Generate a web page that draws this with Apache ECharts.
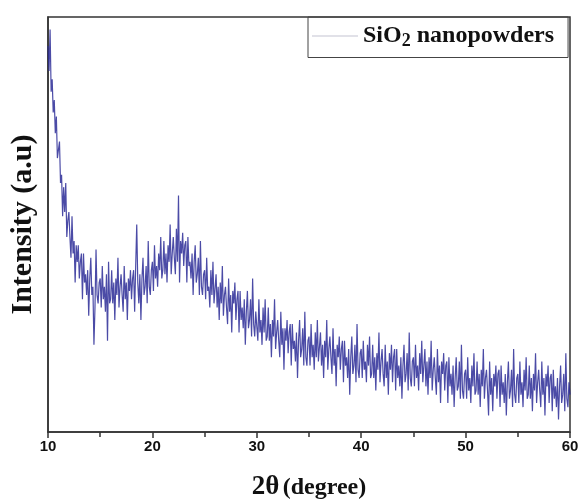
<!DOCTYPE html>
<html>
<head>
<meta charset="utf-8">
<script src="https://cdn.jsdelivr.net/npm/echarts@6/dist/echarts.min.js"></script>
<style>
  html, body { margin: 0; padding: 0; background: #fff; }
  #chart { width: 579px; height: 500px; }
</style>
</head>
<body>
<div id="chart"></div>
<script>
// 2theta from 10 to 60 deg, step 0.1
let thetaStart = 10;
let thetaStep = 0.1;
// intensity (a.u), one row per degree
let intensity = [
  93, 87, 97, 82, 85, 77, 80, 72, 76, 66,
  66, 70, 60, 62, 52, 59, 53, 60, 47, 51,
  53, 47, 42, 52, 43, 46, 36, 45, 41, 45,
  37, 41, 43, 32, 43, 36, 38, 33, 39, 28,
  37, 42, 33, 35, 21, 30, 44, 33, 31, 36,
  37, 30, 40, 32, 35, 29, 38, 22, 41, 31,
  32, 39, 31, 36, 27, 37, 33, 42, 30, 35,
  38, 33, 29, 40, 32, 36, 27, 37, 34, 39,
  32, 37, 39, 29, 40, 50, 36, 31, 38, 27,
  37, 42, 33, 35, 40, 31, 46, 35, 33, 39,
  41, 34, 45, 37, 40, 35, 43, 39, 47, 37,
  39, 46, 38, 43, 36, 45, 41, 50, 38, 43,
  47, 42, 38, 49, 41, 57, 36, 46, 43, 48,
  40, 45, 46, 36, 47, 40, 41, 37, 43, 33,
  41, 45, 36, 38, 42, 33, 46, 35, 33, 38,
  39, 32, 42, 34, 35, 30, 39, 33, 41, 31,
  31, 38, 30, 35, 27, 36, 31, 40, 28, 33,
  35, 30, 26, 37, 29, 33, 24, 34, 31, 36,
  27, 32, 34, 24, 34, 27, 30, 25, 32, 21,
  29, 34, 25, 27, 32, 23, 37, 26, 23, 29,
  29, 22, 32, 24, 27, 21, 30, 24, 32, 22,
  23, 30, 22, 26, 18, 27, 23, 32, 20, 24,
  27, 22, 18, 29, 21, 25, 15, 25, 22, 27,
  19, 24, 26, 16, 26, 20, 22, 17, 24, 13,
  22, 27, 18, 20, 25, 16, 29, 18, 16, 22,
  23, 16, 26, 18, 21, 15, 24, 18, 27, 17,
  17, 24, 16, 21, 13, 22, 18, 27, 15, 20,
  23, 18, 14, 25, 16, 20, 11, 21, 18, 23,
  15, 20, 22, 12, 22, 16, 18, 13, 20, 9,
  18, 23, 14, 16, 21, 12, 26, 15, 13, 19,
  20, 13, 22, 15, 17, 12, 21, 16, 23, 13,
  14, 21, 13, 18, 10, 19, 15, 24, 12, 17,
  20, 14, 11, 21, 13, 17, 9, 19, 15, 21,
  12, 18, 20, 10, 20, 13, 16, 11, 18, 8,
  16, 21, 12, 14, 19, 10, 24, 13, 11, 17,
  18, 11, 21, 13, 16, 10, 19, 14, 22, 12,
  12, 20, 11, 17, 9, 18, 13, 22, 10, 15,
  18, 13, 9, 20, 12, 16, 7, 17, 14, 19,
  10, 16, 17, 7, 18, 11, 14, 9, 16, 6,
  13, 18, 10, 11, 17, 8, 21, 10, 8, 14,
  15, 8, 18, 10, 13, 7, 16, 11, 19, 9,
  10, 17, 9, 14, 6, 15, 11, 20, 8, 13,
  15, 10, 4, 17, 9, 13, 5, 14, 11, 16,
  8, 14, 15, 6, 16, 9, 12, 7, 14, 4,
  12, 17, 8, 10, 15, 6, 20, 9, 7, 13,
  14, 7, 17, 9, 12, 6, 15, 10, 18, 8,
  9, 16, 8, 13, 5, 14, 10, 19, 7, 12,
  15, 10, 6, 17, 9, 13, 4, 14, 11, 16,
  7, 13, 14, 5, 15, 8, 11, 6, 13, 3,
  11, 16, 7, 9, 14, 5, 19, 8, 6, 12,
  9
];
let xTicks = [10, 20, 30, 40, 50, 60];

let points = intensity.map((v, i) => [+(thetaStart + i * thetaStep).toFixed(1), v]);

let serif = '"Liberation Serif", "Times New Roman", serif';
let sans = '"Liberation Sans", Arial, sans-serif';

let chart = echarts.init(document.getElementById('chart'), null, { renderer: 'canvas' });
chart.setOption({
  animation: false,
  backgroundColor: '#fff',
  grid: {
    left: 48, right: 9, top: 17, bottom: 68,
    outerBoundsMode: 'none',
    show: true,
    borderColor: '#333',
    borderWidth: 1.5
  },
  legend: {
    left: 308,
    top: 17,
    padding: [7, 14, 7, 4],
    borderColor: '#444',
    borderWidth: 1,
    icon: 'rect',
    itemWidth: 46,
    itemHeight: 1,
    itemGap: 0,
    data: ['SiO2 nanopowders'],
    itemStyle: { color: '#c4c4d2' },
    formatter: () => '{a|SiO}{b|2}{a| nanopowders}',
    textStyle: {
      rich: {
        a: { fontFamily: serif, fontWeight: 'bold', fontSize: 24, color: '#111' },
        b: { fontFamily: serif, fontWeight: 'bold', fontSize: 18, color: '#111', padding: [11, 0, 0, 0] }
      }
    }
  },
  xAxis: {
    type: 'value',
    min: 10,
    max: 60,
    interval: 10,
    name: '{a|2θ} {b|(degree)}',
    nameLocation: 'middle',
    nameGap: 42,
    nameTextStyle: {
      rich: {
        a: { fontFamily: serif, fontWeight: 'bold', fontSize: 27, color: '#111' },
        b: { fontFamily: serif, fontWeight: 'bold', fontSize: 24, color: '#111' }
      }
    },
    axisLine: { lineStyle: { color: '#333', width: 1.5 } },
    axisTick: { show: true, inside: false, length: 6, lineStyle: { color: '#333', width: 1.5 } },
    minorTick: { show: true, splitNumber: 2, length: 5, lineStyle: { color: '#333', width: 1.5 } },
    axisLabel: {
      fontFamily: sans, fontWeight: 'bold', fontSize: 15, color: '#111', margin: 7,
      formatter: v => xTicks.includes(v) ? String(v) : ''
    },
    splitLine: { show: false }
  },
  yAxis: {
    type: 'value',
    min: 0,
    max: 100,
    name: 'Intensity (a.u)',
    nameLocation: 'middle',
    nameGap: 10,
    nameTextStyle: { fontFamily: serif, fontWeight: 'bold', fontSize: 30, color: '#111' },
    axisLine: { show: true, lineStyle: { color: '#333', width: 1.5 } },
    axisTick: { show: false },
    axisLabel: { show: false },
    splitLine: { show: false }
  },
  series: [{
    name: 'SiO2 nanopowders',
    type: 'line',
    data: points,
    symbol: 'none',
    lineStyle: { color: '#2b2b96', width: 1.2, opacity: 0.85 }
  }]
});
</script>
</body>
</html>
